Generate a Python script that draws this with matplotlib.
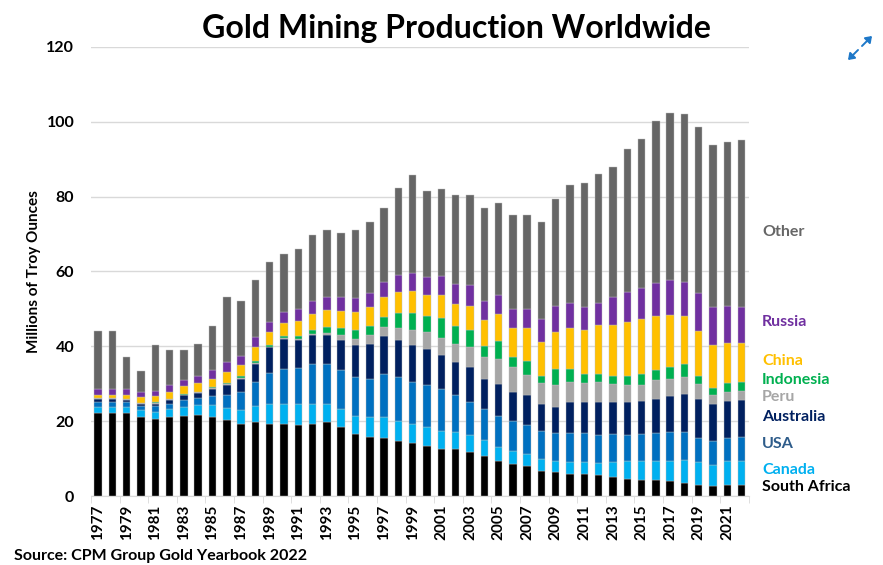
import numpy as np
import matplotlib
matplotlib.use("Agg")
import matplotlib.pyplot as plt
from matplotlib.patches import FancyArrowPatch

plt.rcParams['font.family'] = ['Lato', 'DejaVu Sans']

years = list(range(1977, 2023))

south_africa = [22.1, 22.1, 22.1, 21.2, 20.6, 21.2, 21.4, 21.7, 21.2, 20.2, 19.3, 19.7, 19.3, 19.3, 19.0, 19.3,
                19.7, 18.5, 16.5, 15.7, 15.5, 14.7, 14.2, 13.5, 12.5, 12.5, 11.8, 10.7, 9.3, 8.5, 8.0, 6.8,
                6.3, 6.0, 5.8, 5.5, 5.0, 4.6, 4.3, 4.3, 4.0, 3.5, 3.0, 2.8, 3.0, 3.0]
canada = [1.8, 1.8, 1.8, 1.8, 1.9, 2.0, 2.4, 2.5, 3.0, 3.2, 3.7, 4.3, 5.2, 5.2, 5.5, 5.2,
          4.8, 4.8, 5.0, 5.3, 5.5, 5.4, 5.1, 5.0, 5.0, 4.6, 4.5, 4.3, 3.9, 3.6, 3.3, 3.1,
          3.2, 3.2, 3.2, 3.3, 4.0, 4.9, 5.2, 5.2, 5.5, 6.2, 6.0, 5.5, 6.3, 6.3]
usa = [1.1, 1.1, 1.1, 1.1, 1.6, 1.5, 1.9, 2.0, 2.6, 3.7, 4.7, 6.4, 8.4, 9.5, 9.8, 10.7,
       10.7, 10.5, 10.2, 10.4, 11.7, 11.6, 11.1, 11.2, 11.0, 9.9, 8.9, 8.2, 8.2, 7.9, 7.7, 7.5,
       7.3, 7.6, 7.8, 7.5, 7.5, 6.8, 7.0, 7.3, 7.7, 7.3, 6.5, 6.3, 6.2, 6.5]
australia = [0.9, 0.9, 0.7, 0.5, 0.5, 1.0, 1.2, 1.3, 1.8, 2.6, 3.6, 5.0, 6.8, 7.9, 7.3, 7.7,
             7.7, 7.9, 8.6, 9.3, 10.0, 10.1, 9.9, 9.6, 9.2, 8.7, 9.4, 8.2, 8.5, 7.9, 8.0, 7.2,
             7.1, 8.2, 8.2, 8.9, 8.5, 8.9, 8.9, 9.2, 9.5, 10.2, 10.5, 9.9, 9.9, 9.9]
peru = [0.2, 0.2, 0.2, 0.2, 0.2, 0.2, 0.2, 0.2, 0.2, 0.2, 0.2, 0.2, 0.2, 0.2, 0.3, 0.4,
        0.7, 1.2, 1.7, 2.2, 2.5, 3.0, 4.2, 4.4, 4.4, 4.9, 5.3, 5.7, 6.8, 6.6, 5.4, 5.6,
        5.8, 5.4, 5.2, 5.2, 5.0, 4.5, 4.3, 4.9, 4.7, 4.5, 4.0, 2.5, 2.5, 2.5]
indonesia = [0.0, 0.0, 0.0, 0.1, 0.3, 0.1, 0.1, 0.1, 0.3, 0.4, 0.5, 0.6, 0.5, 0.7, 0.9, 1.2,
             1.6, 2.0, 2.5, 2.5, 2.7, 4.1, 4.4, 4.5, 5.6, 4.8, 4.6, 3.1, 4.8, 2.7, 3.8, 1.9,
             4.3, 3.6, 2.5, 2.3, 2.0, 2.3, 3.0, 2.9, 3.2, 3.5, 2.0, 1.8, 2.3, 2.4]
china = [1.0, 1.0, 1.2, 1.6, 1.7, 1.9, 2.1, 2.4, 2.3, 2.9, 3.0, 3.5, 3.4, 3.5, 3.9, 4.2,
         4.4, 4.5, 4.7, 5.0, 5.2, 5.5, 6.0, 5.6, 6.0, 6.0, 6.4, 6.9, 7.2, 7.7, 8.7, 9.1,
         9.9, 10.9, 11.8, 12.9, 13.6, 14.4, 14.7, 14.3, 13.8, 12.9, 12.2, 11.6, 10.8, 10.3]
russia = [1.4, 1.4, 1.4, 1.4, 1.4, 1.7, 1.8, 1.8, 2.4, 2.5, 2.5, 2.7, 2.6, 2.9, 3.2, 3.5,
          3.5, 3.7, 3.7, 3.9, 4.0, 4.6, 4.8, 4.7, 5.1, 5.3, 5.4, 5.1, 5.0, 5.0, 5.0, 6.0,
          6.8, 6.6, 6.0, 5.9, 7.5, 8.1, 8.1, 8.8, 9.2, 9.0, 10.0, 10.0, 9.7, 9.5]
other = [15.7, 15.7, 8.6, 5.5, 12.2, 9.5, 7.8, 8.6, 11.6, 17.6, 14.6, 15.2, 16.2, 15.4, 16.2, 17.6,
         18.0, 17.3, 18.2, 19.0, 19.8, 23.3, 26.1, 23.1, 23.3, 23.7, 24.2, 24.7, 24.6, 25.2, 25.2, 26.1,
         28.6, 31.5, 33.1, 34.5, 34.7, 38.3, 39.8, 43.3, 44.8, 44.9, 44.3, 43.4, 43.8, 44.6]

series = [
    ('South Africa', south_africa, '#000000', '#000000'),
    ('Canada', canada, '#00B0F0', '#00B0F0'),
    ('USA', usa, '#0070C0', '#2E5C8A'),
    ('Australia', australia, '#002060', '#002060'),
    ('Peru', peru, '#A6A6A6', '#A6A6A6'),
    ('Indonesia', indonesia, '#00B050', '#00B050'),
    ('China', china, '#FFC000', '#FFC000'),
    ('Russia', russia, '#7030A0', '#7030A0'),
    ('Other', other, '#666666', '#666666'),
]

# label heights (data units) for the names at the right
label_y = {'Other': 70.5, 'Russia': 46.5, 'China': 36.2, 'Indonesia': 31.0,
           'Peru': 26.5, 'Australia': 21.2, 'USA': 14.0, 'Canada': 7.0, 'South Africa': 2.3}

fig = plt.figure(figsize=(8.83, 5.65), dpi=100)
ax = fig.add_axes([0.103, 0.122, 0.745, 0.795])

x = np.arange(len(years))
bottom = np.zeros(len(years))
for name, vals, color, tcolor in series:
    ax.bar(x, vals, width=0.52, bottom=bottom, color=color, edgecolor='#bfbfbf', linewidth=0.3, zorder=3)
    bottom += np.array(vals)
    ax.text(1.02, label_y[name], name, transform=ax.get_yaxis_transform(), color=tcolor,
            fontsize=11.5, fontweight='bold', va='center', ha='left')

ax.set_xlim(-0.5, len(years) - 0.5)
ax.set_ylim(0, 120)
ax.set_yticks(range(0, 121, 20))
ax.yaxis.grid(True, color='#d9d9d9', linewidth=1)
ax.set_axisbelow(True)
for s in ['left', 'right', 'top']:
    ax.spines[s].set_visible(False)
ax.spines['bottom'].set_color('#d9d9d9')

ax.set_xticks(x[::2])
ax.set_xticklabels([str(y) for y in years[::2]], rotation=90, fontsize=11, fontweight='bold')
ax.set_xticks(np.arange(-0.5, len(years), 2), minor=True)
ax.tick_params(axis='x', which='major', length=0, pad=6)
ax.tick_params(axis='x', which='minor', length=5, color='#d9d9d9')
ax.tick_params(axis='y', length=0, pad=12, labelsize=11.5)
for lab in ax.get_yticklabels():
    lab.set_fontweight('bold')

ax.set_ylabel('Millions of Troy Ounces', fontsize=11, fontweight='bold', labelpad=4)
fig.text(0.517, 0.95, 'Gold Mining Production Worldwide', ha='center', va='center',
         fontsize=23, fontweight='bold')
fig.text(0.016, 0.003, 'Source: CPM Group Gold Yearbook 2022', ha='left', va='bottom',
         fontsize=11.5, fontweight='bold')

# expand icon (two small arrows)
for start, end in [((862, 519), (872, 529)), ((858, 515), (848, 505))]:
    fig.add_artist(FancyArrowPatch(start, end, transform=None,
                                   arrowstyle='-|>,head_length=3.5,head_width=2.5',
                                   color='#1E78C8', linewidth=1.4, shrinkA=0, shrinkB=0))

fig.savefig('out.png', dpi=100)
